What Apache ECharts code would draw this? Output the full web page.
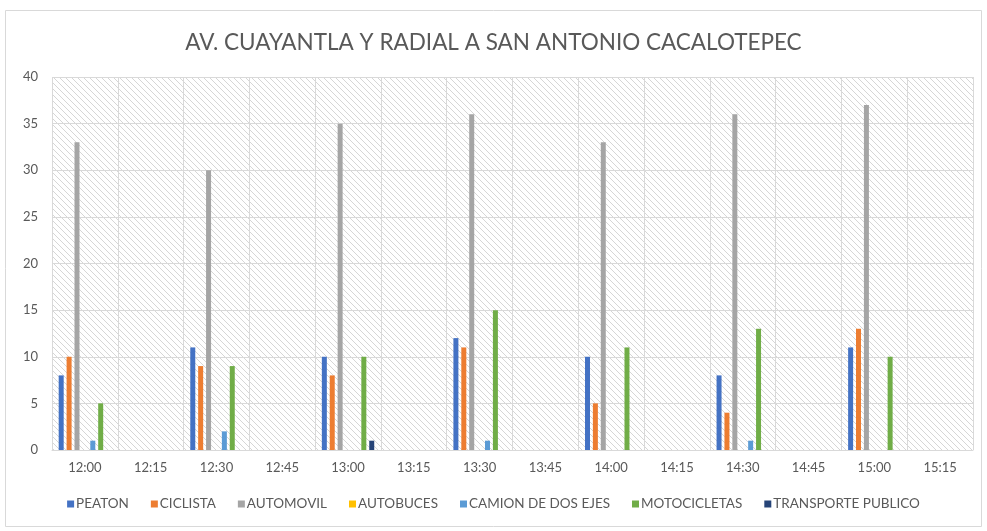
<!DOCTYPE html>
<html lang="es">
<head>
    <meta charset="UTF-8">
    <title>AV. CUAYANTLA Y RADIAL A SAN ANTONIO CACALOTEPEC</title>
    <script src="https://cdn.jsdelivr.net/npm/echarts@6/dist/echarts.min.js"></script>
    <style>
        html, body { margin: 0; padding: 0; background: #fff; }
    </style>
</head>
<body>
<div id="main" style="width: 987px;height:531px;"></div>
<script type="text/javascript">
    // horas
    var horas = ['12:00', '12:15', '12:30', '12:45', '13:00', '13:15', '13:30',
        '13:45', '14:00', '14:15', '14:30', '14:45', '15:00', '15:15'];

    // conteos por tipo (null = sin dato)
    var peaton = [8, null, 11, null, 10, null, 12, null, 10, null, 8, null, 11, null];
    var ciclista = [10, null, 9, null, 8, null, 11, null, 5, null, 4, null, 13, null];
    var automovil = [33, null, 30, null, 35, null, 36, null, 33, null, 36, null, 37, null];
    var autobuces = [0, null, 0, null, 0, null, 0, null, 0, null, 0, null, 0, null];
    var camion = [1, null, 2, null, 0, null, 1, null, 0, null, 1, null, 0, null];
    var motos = [5, null, 9, null, 10, null, 15, null, 11, null, 13, null, 10, null];
    var transporte = [0, null, 0, null, 1, null, 0, null, 0, null, 0, null, 0, null];

    var yTicks = [0, 5, 10, 15, 20, 25, 30, 35, 40];

    // fondo rayado
    var patron = document.createElement('canvas');
    patron.width = 6;
    patron.height = 6;
    var ctx = patron.getContext('2d');
    ctx.fillStyle = '#ffffff';
    ctx.fillRect(0, 0, 6, 6);
    ctx.strokeStyle = '#d6d6d6';
    ctx.lineWidth = 1;
    ctx.beginPath();
    ctx.moveTo(-1, -1); ctx.lineTo(7, 7);
    ctx.moveTo(-4, 2); ctx.lineTo(4, 10);
    ctx.moveTo(2, -4); ctx.lineTo(10, 4);
    ctx.stroke();

    var myChart = echarts.init(document.getElementById('main'));

    function serie(nombre, datos, color) {
        return {
            name: nombre,
            type: 'bar',
            data: datos,
            barWidth: 5,
            barGap: '58%',
            itemStyle: { color: color }
        };
    }

    var textoGris = '#595959';
    var fuente = 'Lato';

    var option = {
        backgroundColor: '#ffffff',
        animation: false,
        title: {
            text: 'AV. CUAYANTLA Y RADIAL A SAN ANTONIO CACALOTEPEC',
            left: 'center',
            top: 26,
            textStyle: {
                color: textoGris,
                fontFamily: fuente,
                fontWeight: 'normal',
                fontSize: 22.5
            }
        },
        legend: {
            bottom: 15,
            left: 'center',
            itemWidth: 7,
            itemHeight: 7,
            itemGap: 22,
            icon: 'rect',
            textStyle: {
                color: textoGris,
                fontFamily: fuente,
                fontSize: 13.5,
                padding: [0, 0, 0, -3]
            }
        },
        grid: {
            left: 52,
            right: 14,
            top: 77,
            bottom: 81,
            show: true,
            borderWidth: 0,
            backgroundColor: { image: patron, repeat: 'repeat' }
        },
        xAxis: {
            type: 'category',
            data: horas,
            axisLine: { lineStyle: { color: '#d9d9d9' } },
            axisTick: { show: false },
            axisLabel: {
                color: textoGris,
                fontFamily: fuente,
                fontSize: 13,
                margin: 11
            },
            splitLine: { show: true, interval: 0, lineStyle: { color: '#d9d9d9' } }
        },
        yAxis: {
            type: 'value',
            min: yTicks[0],
            max: yTicks[yTicks.length - 1],
            interval: 5,
            axisLine: { show: false },
            axisTick: { show: false },
            axisLabel: {
                color: textoGris,
                fontFamily: fuente,
                fontSize: 13,
                margin: 14
            },
            splitLine: { lineStyle: { color: '#d9d9d9' } }
        },
        series: [
            serie('PEATON', peaton, '#4472C4'),
            serie('CICLISTA', ciclista, '#ED7D31'),
            serie('AUTOMOVIL', automovil, '#A5A5A5'),
            serie('AUTOBUCES', autobuces, '#FFC000'),
            serie('CAMION DE DOS EJES', camion, '#5B9BD5'),
            serie('MOTOCICLETAS', motos, '#70AD47'),
            serie('TRANSPORTE PUBLICO', transporte, '#264478')
        ],
        graphic: [{
            type: 'rect',
            shape: { x: 5.5, y: 10.5, width: 976, height: 516 },
            style: { fill: 'none', stroke: '#d9d9d9', lineWidth: 1 },
            silent: true
        }]
    };

    myChart.setOption(option);
</script>
</body>
</html>
